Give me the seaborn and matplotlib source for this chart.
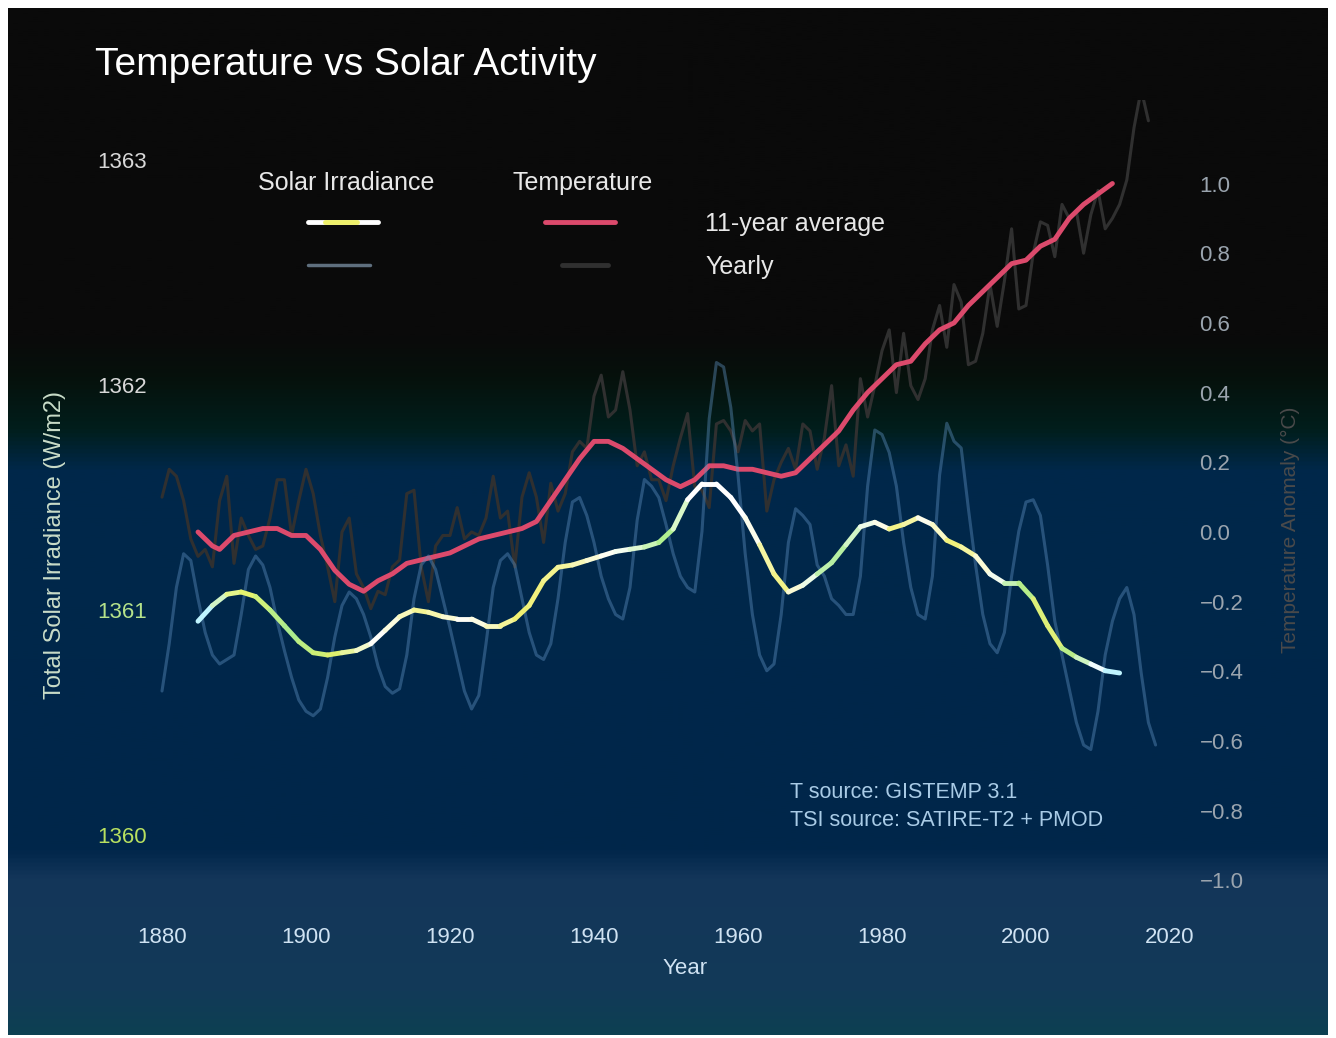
import numpy as np
import pandas as pd
import matplotlib
matplotlib.use("Agg")
import matplotlib.pyplot as plt
import matplotlib.colors as mcolors
from matplotlib.collections import LineCollection
from matplotlib.lines import Line2D
import seaborn as sns

# Yearly total solar irradiance (W/m2)
tsi_years = list(range(1880, 2019))
tsi_yearly = [
    1360.64, 1360.85, 1361.10, 1361.25, 1361.22, 1361.05, 1360.90, 1360.80, 1360.76, 1360.78,
    1360.80, 1360.98, 1361.18, 1361.24, 1361.20, 1361.10, 1360.95, 1360.82, 1360.70, 1360.60,
    1360.55, 1360.53, 1360.56, 1360.70, 1360.88, 1361.02, 1361.08, 1361.05, 1360.98, 1360.88,
    1360.75, 1360.66, 1360.63, 1360.65, 1360.80, 1361.05, 1361.20, 1361.24, 1361.18, 1361.05,
    1360.92, 1360.78, 1360.64, 1360.56, 1360.62, 1360.85, 1361.10, 1361.22, 1361.25, 1361.20,
    1361.05, 1360.90, 1360.80, 1360.78, 1360.85, 1361.05, 1361.30, 1361.48, 1361.50, 1361.42,
    1361.30, 1361.15, 1361.05, 1360.98, 1360.96, 1361.10, 1361.40, 1361.58, 1361.55, 1361.50,
    1361.38, 1361.25, 1361.15, 1361.10, 1361.08, 1361.35, 1361.85, 1362.10, 1362.08, 1361.90,
    1361.60, 1361.25, 1360.98, 1360.80, 1360.73, 1360.76, 1360.98, 1361.30, 1361.45, 1361.42,
    1361.38, 1361.20, 1361.15, 1361.05, 1361.02, 1360.98, 1360.98, 1361.15, 1361.55, 1361.80,
    1361.78, 1361.70, 1361.55, 1361.30, 1361.10, 1360.98, 1360.96, 1361.15, 1361.60, 1361.83,
    1361.75, 1361.72, 1361.45, 1361.20, 1360.98, 1360.85, 1360.81, 1360.90, 1361.15, 1361.35,
    1361.48, 1361.49, 1361.42, 1361.20, 1360.95, 1360.80, 1360.65, 1360.50, 1360.40, 1360.38,
    1360.55, 1360.80, 1360.95, 1361.05, 1361.10, 1360.98, 1360.72, 1360.50, 1360.40,
]

# 11-year average solar irradiance
tsi_avg_years = list(range(1885, 2014, 2))
tsi_avg = [
    1360.95, 1361.02, 1361.07, 1361.08, 1361.06, 1361.00, 1360.93, 1360.86, 1360.81, 1360.80,
    1360.81, 1360.82, 1360.85, 1360.91, 1360.97, 1361.00, 1360.99, 1360.97, 1360.96, 1360.96,
    1360.93, 1360.93, 1360.96, 1361.02, 1361.13, 1361.19, 1361.20, 1361.22, 1361.24, 1361.26,
    1361.27, 1361.28, 1361.30, 1361.36, 1361.49, 1361.56, 1361.56, 1361.50, 1361.41, 1361.29,
    1361.16, 1361.08, 1361.11, 1361.16, 1361.21, 1361.29, 1361.37, 1361.39, 1361.36, 1361.38,
    1361.41, 1361.38, 1361.31, 1361.28, 1361.24, 1361.16, 1361.12, 1361.12, 1361.05, 1360.93,
    1360.83, 1360.79, 1360.76, 1360.73, 1360.72,
]

# Yearly temperature anomaly (deg C)
temp_years = list(range(1880, 2018))
temp_yearly = [
    0.10, 0.18, 0.16, 0.09, -0.02, -0.07, -0.05, -0.10, 0.09, 0.16,
    -0.09, 0.04, -0.01, -0.05, -0.04, 0.04, 0.15, 0.15, -0.01, 0.09,
    0.18, 0.11, -0.01, -0.10, -0.20, 0.00, 0.04, -0.12, -0.16, -0.22,
    -0.17, -0.18, -0.10, -0.08, 0.11, 0.12, -0.10, -0.20, -0.04, -0.01,
    -0.01, 0.07, -0.02, 0.00, -0.01, 0.04, 0.16, 0.04, 0.06, -0.10,
    0.10, 0.17, 0.10, -0.03, 0.14, 0.06, 0.11, 0.23, 0.26, 0.24,
    0.39, 0.45, 0.33, 0.35, 0.46, 0.35, 0.19, 0.23, 0.15, 0.15,
    0.09, 0.19, 0.27, 0.34, 0.13, 0.12, 0.07, 0.31, 0.32, 0.29,
    0.23, 0.32, 0.29, 0.31, 0.06, 0.15, 0.20, 0.24, 0.18, 0.31,
    0.29, 0.18, 0.27, 0.42, 0.19, 0.25, 0.16, 0.44, 0.33, 0.42,
    0.52, 0.58, 0.40, 0.57, 0.42, 0.38, 0.44, 0.58, 0.65, 0.53,
    0.71, 0.66, 0.48, 0.49, 0.57, 0.71, 0.59, 0.72, 0.87, 0.64,
    0.65, 0.80, 0.89, 0.88, 0.79, 0.94, 0.90, 0.92, 0.80, 0.91,
    0.98, 0.87, 0.90, 0.94, 1.01, 1.16, 1.27, 1.18,
]

# 11-year average temperature
temp_avg_years = [1885, 1887, 1888] + list(range(1890, 2013, 2))
temp_avg = [
    0.00, -0.04, -0.05, -0.01, 0.00, 0.01, 0.01, -0.01, -0.01, -0.05,
    -0.11, -0.15, -0.17, -0.14, -0.12, -0.09, -0.08, -0.07, -0.06, -0.04,
    -0.02, -0.01, 0.00, 0.01, 0.03, 0.09, 0.15, 0.21, 0.26, 0.26,
    0.24, 0.21, 0.18, 0.15, 0.13, 0.15, 0.19, 0.19, 0.18, 0.18,
    0.17, 0.16, 0.17, 0.21, 0.25, 0.29, 0.35, 0.40, 0.44, 0.48,
    0.49, 0.54, 0.58, 0.60, 0.65, 0.69, 0.73, 0.77, 0.78, 0.82,
    0.84, 0.90, 0.94, 0.97, 1.00,
]

x_ticks = [1880, 1900, 1920, 1940, 1960, 1980, 2000, 2020]
tsi_ticks = [1360, 1361, 1362, 1363]
temp_ticks = [1.0, 0.8, 0.6, 0.4, 0.2, 0.0, -0.2, -0.4, -0.6, -0.8, -1.0]

df_tsi = pd.DataFrame({"year": tsi_years, "tsi": tsi_yearly})
df_tsi_avg = pd.DataFrame({"year": tsi_avg_years, "tsi": tsi_avg})
df_temp = pd.DataFrame({"year": temp_years, "temp": temp_yearly})
df_temp_avg = pd.DataFrame({"year": temp_avg_years, "temp": temp_avg})

sns.set_theme(style="dark")
plt.rcParams['font.family'] = ['Liberation Sans', 'DejaVu Sans']

W, H = 1336, 1038
fig = plt.figure(figsize=(W / 100, H / 100), dpi=100, facecolor="white")

def fx(px):
    return px / W

def fy(py):
    return 1 - py / H

# background gradient (black top fading into navy)
bg = fig.add_axes([fx(8), fy(1035), fx(1328) - fx(8), fy(8) - fy(1035)], zorder=0)
stops = [(0.0, "#0a0a0a"), (0.32, "#0a0a0a"), (0.36, "#06110c"), (0.41, "#011e1c"),
         (0.45, "#00284a"), (0.82, "#00264a"), (0.85, "#14365a"), (0.96, "#123a58"),
         (1.0, "#0d4052")]
bg_cmap = mcolors.LinearSegmentedColormap.from_list("bg", stops)
bg.imshow(np.linspace(0, 1, 512).reshape(-1, 1), aspect="auto", cmap=bg_cmap,
          extent=[0, 1, 0, 1])
bg.set_axis_off()

# main axes
top_px, bot_px, left_px, right_px = 100, 885, 150, 1180
ax = fig.add_axes([fx(left_px), fy(bot_px), fx(right_px) - fx(left_px), fy(top_px) - fy(bot_px)],
                  zorder=2)
ax.set_facecolor("none")
ax.set_xlim(1880 - (162 - left_px) / 7.2, 1880 + (right_px - 162) / 7.2)
ax.set_ylim(1360 - (bot_px - 835) / 225, 1360 + (835 - top_px) / 225)

ax2 = ax.twinx()
ax2.set_ylim(-(bot_px - 532) / 348.5, (532 - top_px) / 348.5)

# yearly lines
sns.lineplot(data=df_tsi, x="year", y="tsi", ax=ax, color="#5e90c0", alpha=0.42,
             linewidth=2.2, zorder=1)
sns.lineplot(data=df_temp, x="year", y="temp", ax=ax2, color="#303030",
             linewidth=2.2, zorder=1)
# 11-year averages
sns.lineplot(data=df_temp_avg, x="year", y="temp", ax=ax2, color="#dc4a6c",
             linewidth=3.5, zorder=3)

ax.set_zorder(3)
ax2.set_zorder(2)

grad = mcolors.LinearSegmentedColormap.from_list("tsi", [
    (0.00, "#bff4ff"), (0.04, "#f0f56a"), (0.09, "#a8ec90"), (0.14, "#dcf06a"),
    (0.19, "#ffffff"), (0.24, "#f3f38a"), (0.29, "#ffffff"), (0.35, "#f0f070"),
    (0.40, "#f5f5a0"), (0.45, "#ffffff"), (0.51, "#b0f090"), (0.54, "#ffffff"),
    (0.60, "#ffffff"), (0.63, "#f0f070"), (0.66, "#ffffff"),
    (0.69, "#a8ec90"), (0.74, "#ffffff"), (0.77, "#f0f070"), (0.80, "#ffffff"),
    (0.83, "#f0f070"), (0.87, "#ffffff"), (0.90, "#a8ec90"), (0.93, "#f0f070"),
    (0.96, "#a8ec90"), (0.98, "#ffffff"), (1.00, "#bff4ff")])
pts = np.column_stack([df_tsi_avg["year"], df_tsi_avg["tsi"]]).reshape(-1, 1, 2)
segs = np.concatenate([pts[:-1], pts[1:]], axis=1)
lc = LineCollection(segs, cmap=grad, linewidth=3.5, capstyle="round", zorder=4)
lc.set_array(df_tsi_avg["year"].values[:-1].astype(float))
ax.add_collection(lc)

# axes styling
for a in (ax, ax2):
    for s in a.spines.values():
        s.set_visible(False)
    a.grid(False)
    a.set_xlabel("")
    a.set_ylabel("")

ax.set_xticks(x_ticks)
ax.set_xticklabels([str(t) for t in x_ticks])
ax.tick_params(axis="x", length=0, pad=30, labelsize=16, labelcolor="#cfe2f2")
ax.set_yticks(tsi_ticks)
ax.set_yticklabels([str(t) for t in tsi_ticks])
ax.tick_params(axis="y", length=0, pad=2, labelsize=16)
for lbl, c in zip(ax.get_yticklabels(), ["#b8e060", "#b5e28a", "#d8d8d8", "#d8d8d8"]):
    lbl.set_color(c)

ax2.set_yticks(temp_ticks)
ax2.set_yticklabels([f"{t:.1f}".replace("-", "\u2212") for t in temp_ticks])
ax2.tick_params(axis="y", length=0, pad=14, labelsize=16, labelcolor="#9aa4ae")

ax.set_xlabel("Year", fontsize=16, color="#cfe2f2")
ax.xaxis.set_label_coords((685 - left_px) / (right_px - left_px), (bot_px - 958) / (bot_px - top_px))

fig.text(fx(55), fy(545), "Total Solar Irradiance (W/m2)", rotation=90, ha="center",
         va="center", fontsize=17, color="#c9dcc8")
fig.text(fx(1290), fy(530), "Temperature Anomaly (\u00b0C)", rotation=90, ha="center",
         va="center", fontsize=15, color="#4a4a4a")

# title
fig.text(fx(95), fy(65), "Temperature vs Solar Activity", ha="left", va="center",
         fontsize=28, color="white")

# legend
fig.text(fx(346), fy(183), "Solar Irradiance", ha="center", va="center", fontsize=18, color="#e8e8e8")
fig.text(fx(583), fy(183), "Temperature", ha="center", va="center", fontsize=18, color="#e8e8e8")
fig.text(fx(705), fy(224), "11-year average", ha="left", va="center", fontsize=18, color="#e8e8e8")
fig.text(fx(705), fy(267), "Yearly", ha="left", va="center", fontsize=18, color="#e8e8e8")

def seg(x0, x1, y, color, lw):
    fig.add_artist(Line2D([fx(x0), fx(x1)], [fy(y), fy(y)], color=color, linewidth=lw,
                          transform=fig.transFigure, solid_capstyle="round"))

seg(308, 378, 222, "#ffffff", 3.5)
seg(325, 357, 222, "#eef06a", 3.5)
seg(545, 615, 222, "#dc4a6c", 3.5)
seg(308, 370, 265, "#5f6f7e", 2.5)
seg(562, 608, 265, "#303030", 3.5)

# sources
fig.text(fx(790), fy(793), "T source: GISTEMP 3.1", ha="left", va="center", fontsize=15.5, color="#a9cbe6")
fig.text(fx(790), fy(820), "TSI source: SATIRE-T2 + PMOD", ha="left", va="center", fontsize=15.5, color="#a9cbe6")

fig.savefig("out.png", dpi=100, facecolor=fig.get_facecolor())
